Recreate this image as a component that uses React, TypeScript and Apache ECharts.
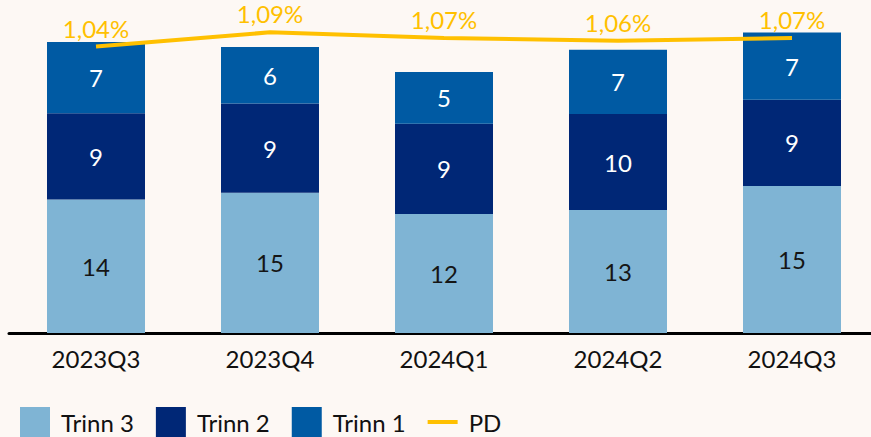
import React, { useEffect, useRef } from "react";
import * as echarts from "echarts";

const categories = ["2023Q3", "2023Q4", "2024Q1", "2024Q2", "2024Q3"];
const trinn3 = [13.9, 14.6, 12.4, 12.8, 15.3];
const trinn2 = [9.0, 9.3, 9.4, 10.0, 9.0];
const trinn1 = [7.4, 5.9, 5.4, 6.7, 7.0];
const pd = [1.04, 1.09, 1.07, 1.06, 1.07];

const FONT = "Lato, 'Noto Sans', sans-serif";
const BG = "#FDF8F4";
const GOLD = "#FFC000";

export default function App() {
  const ref = useRef<HTMLDivElement>(null);
  useEffect(() => {
    document.body.style.margin = "0";
    document.body.style.background = BG;
    const chart = echarts.init(ref.current!, null, { renderer: "svg" });
    const barLabel = (color: string) => ({
      show: true,
      position: "inside",
      color,
      fontSize: 24,
      fontFamily: FONT,
      formatter: (p: any) => String(Math.round(p.value)),
    });
    chart.setOption({
      animation: false,
      backgroundColor: BG,
      textStyle: { fontFamily: FONT },
      grid: {
        left: 9,
        width: 870,
        top: 25.8,
        bottom: 104,
        containLabel: false,
        outerBoundsMode: "none",
      },
      legend: {
        left: 20,
        top: 407,
        padding: 0,
        itemWidth: 30,
        itemHeight: 30,
        itemGap: 22,
        textStyle: { fontSize: 24, color: "#111", fontFamily: FONT, padding: [0, 0, 0, 6] },
        data: [
          { name: "Trinn 3", icon: "rect" },
          { name: "Trinn 2", icon: "rect" },
          { name: "Trinn 1", icon: "rect" },
          { name: "PD", icon: "path://M0,0 L30,0 L30,4 L0,4 Z", itemStyle: { color: GOLD, opacity: 1 } },
        ],
      },
      xAxis: {
        type: "category",
        data: categories,
        axisLine: { show: true, lineStyle: { color: "#000", width: 3 } },
        axisTick: { show: false },
        axisLabel: { color: "#111", fontSize: 24, margin: 13, fontFamily: FONT },
      },
      yAxis: [
        { type: "value", min: 0, max: 32, show: false, splitLine: { show: false } },
        { type: "value", min: 0.03, max: 1.113, show: false, splitLine: { show: false } },
      ],
      series: [
        {
          name: "Trinn 3",
          type: "bar",
          stack: "s",
          barWidth: 98,
          data: trinn3,
          itemStyle: { color: "#7FB4D4" },
          label: barLabel("#151515"),
        },
        {
          name: "Trinn 2",
          type: "bar",
          stack: "s",
          barWidth: 98,
          data: trinn2,
          itemStyle: { color: "#002776" },
          label: barLabel("#FFFFFF"),
        },
        {
          name: "Trinn 1",
          type: "bar",
          stack: "s",
          barWidth: 98,
          data: trinn1,
          itemStyle: { color: "#005AA3" },
          label: barLabel("#FFFFFF"),
        },
        {
          name: "PD",
          type: "line",
          yAxisIndex: 1,
          data: pd,
          symbol: "circle",
          symbolSize: 1,
          showSymbol: true,
          lineStyle: { color: GOLD, width: 4 },
          itemStyle: { color: "rgba(0,0,0,0)", borderWidth: 0 },
          z: 5,
          label: {
            show: true,
            position: "top",
            distance: 6,
            color: GOLD,
            fontSize: 24,
            fontFamily: FONT,
            formatter: (p: any) => p.value.toFixed(2).replace(".", ",") + "%",
          },
        },
      ],
    });
    return () => chart.dispose();
  }, []);
  return (
    <div
      ref={ref}
      style={{ position: "absolute", left: 0, top: 0, width: 871, height: 437, background: BG }}
    />
  );
}
